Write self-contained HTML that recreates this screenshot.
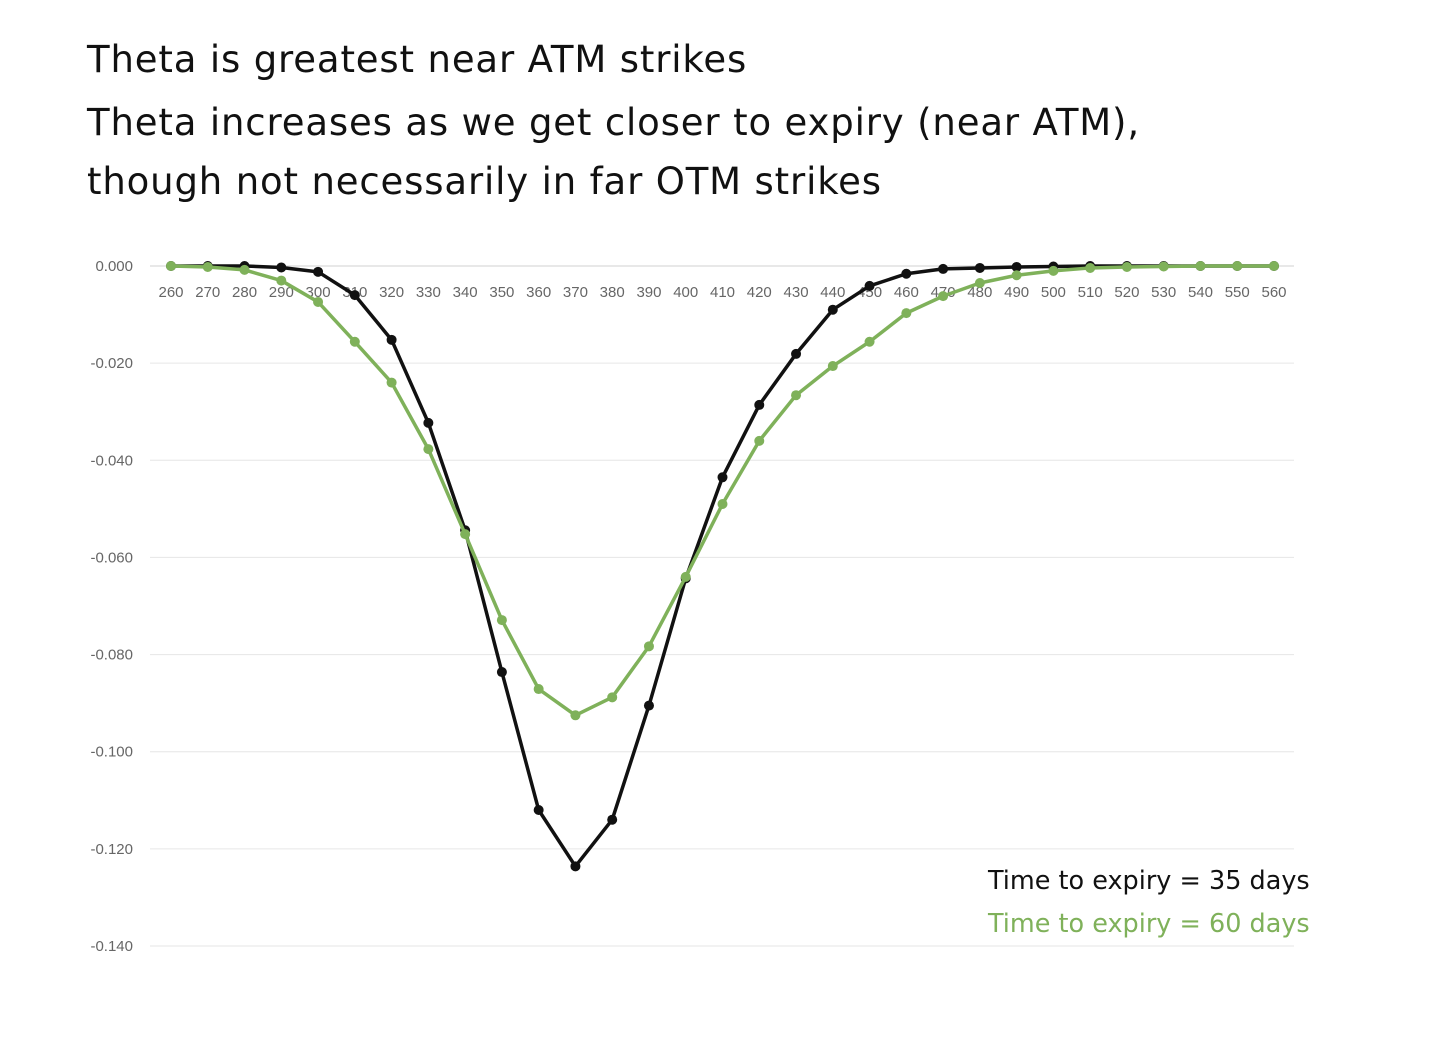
<!DOCTYPE html>
<html><head><meta charset="utf-8"><style>
body{margin:0;background:#fff;width:1438px;height:1048px;overflow:hidden;font-family:"DejaVu Sans","Liberation Sans",sans-serif}
.t{position:absolute;left:87px;font-size:37px;color:#111;letter-spacing:0.85px;white-space:nowrap}
</style></head><body>
<div class="t" style="top:38px">Theta is greatest near ATM strikes</div>
<div class="t" style="top:101px">Theta increases as we get closer to expiry (near ATM),</div>
<div class="t" style="top:160px">though not necessarily in far OTM strikes</div>
<svg id="c" width="1438" height="1048" style="position:absolute;left:0;top:0"></svg>
<script>
const strikes=[260,270,280,290,300,310,320,330,340,350,360,370,380,390,400,410,420,430,440,450,460,470,480,490,500,510,520,530,540,550,560];
const theta35=[0,0,0,-0.0003,-0.0012,-0.006,-0.0152,-0.0323,-0.0544,-0.0836,-0.112,-0.1236,-0.114,-0.0905,-0.0643,-0.0435,-0.0286,-0.0181,-0.009,-0.0041,-0.0016,-0.0006,-0.0004,-0.0002,-0.0001,0,0,0,0,0,0];
const theta60=[0,-0.0002,-0.0008,-0.003,-0.0074,-0.0156,-0.024,-0.0377,-0.0552,-0.0729,-0.0871,-0.0925,-0.0888,-0.0783,-0.064,-0.049,-0.036,-0.0266,-0.0206,-0.0156,-0.0097,-0.0062,-0.0035,-0.0019,-0.001,-0.0004,-0.0002,-0.0001,0,0,0];
const yTicks=[0,-0.02,-0.04,-0.06,-0.08,-0.1,-0.12,-0.14];
const svg=document.getElementById('c');const NS='http://www.w3.org/2000/svg';
const X=v=>171+(v-260)*(1274-171)/300;
const Y=v=>266+(-v)*(946-266)/0.14;
function mk(t,a){const e=document.createElementNS(NS,t);for(const k in a)e.setAttribute(k,a[k]);svg.appendChild(e);return e;}
yTicks.forEach(v=>{
 const g=mk('line',{x1:150,x2:1294,y1:Y(v),y2:Y(v),stroke:v===0?'#d0d0d0':'#e6e6e6','stroke-width':1});
 
 
 const t=mk('text',{x:133,y:Y(v)+5,'text-anchor':'end','font-size':15,fill:'#666','font-family':'Liberation Sans, sans-serif'});
 t.textContent=v.toFixed(3);
 
 
});
strikes.forEach(s=>{
 const t=mk('text',{x:X(s),y:297,'text-anchor':'middle','font-size':15,fill:'#666','font-family':'Liberation Sans, sans-serif'});
 t.textContent=s;
 
 
});
function series(vals,col,name){
 const p=mk('polyline',{points:vals.map((v,i)=>X(strikes[i])+','+Y(v)).join(' '),fill:'none',stroke:col,'stroke-width':3.5,'stroke-linejoin':'round'});
 
 
 vals.forEach((v,i)=>{const c=mk('circle',{cx:X(strikes[i]),cy:Y(v),r:5,fill:col});
 
 });
}
series(theta35,'#111','series-35-days');
series(theta60,'#7fb15a','series-60-days');
const l1=mk('text',{x:988,y:889,'font-size':25.5,fill:'#111','font-family':'DejaVu Sans, sans-serif'});l1.textContent='Time to expiry = 35 days';


const l2=mk('text',{x:988,y:932,'font-size':25.5,fill:'#7fb15a','font-family':'DejaVu Sans, sans-serif'});l2.textContent='Time to expiry = 60 days';


</script>
</body></html>
